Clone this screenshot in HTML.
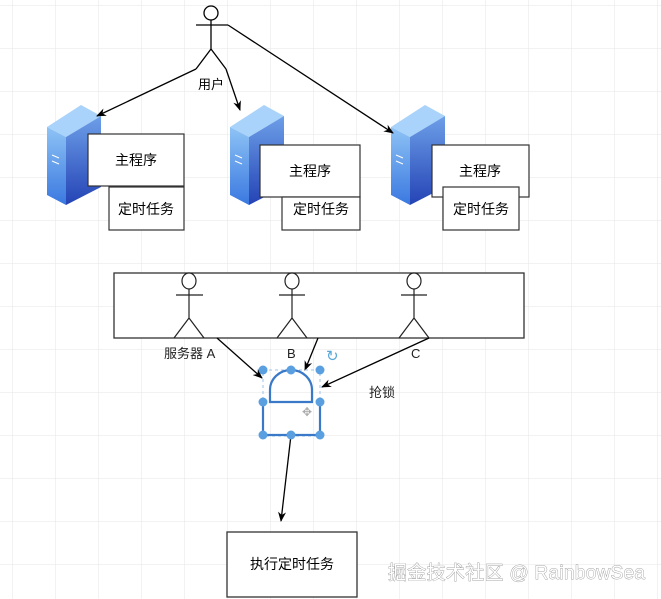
<!DOCTYPE html><html><head><meta charset="utf-8"><style>
body{margin:0;background:#fff;}
svg{display:block;font-family:"Liberation Sans","Noto Sans CJK SC",sans-serif;}
</style></head><body>
<svg width="661" height="599" viewBox="0 0 661 599" xmlns="http://www.w3.org/2000/svg">
<defs>
<pattern id="g" x="12" y="5" width="43" height="43" patternUnits="userSpaceOnUse">
<path d="M0 0V43M0 0H43" stroke="#e6e6e6" stroke-width="1" fill="none"/>
</pattern>
<linearGradient id="sf" x1="0" y1="0" x2="0" y2="1"><stop offset="0" stop-color="#8ec3f5"/><stop offset="1" stop-color="#3a78e0"/></linearGradient>
<linearGradient id="sr" x1="0" y1="0" x2="0" y2="1"><stop offset="0" stop-color="#6d9fe8"/><stop offset="1" stop-color="#2443b5"/></linearGradient>
<marker id="a" markerWidth="10" markerHeight="10" refX="9" refY="5" orient="auto" markerUnits="userSpaceOnUse"><path d="M0 1L10 5L0 9L3 5Z" fill="#000"/></marker>
<g id="srv">
<polygon points="0,22 34,0 54,11 19,32" fill="#a9d3fa"/>
<polygon points="0,22 19,32 19,100 0,90" fill="url(#sf)"/>
<polygon points="19,32 54,11 54,82 19,100" fill="url(#sr)"/>
<path d="M5 50l7 3M5 56l7 3" stroke="#fff" stroke-width="1"/>
</g>
</defs>
<rect width="661" height="599" fill="url(#g)"/>
<!-- servers -->
<use href="#srv" x="47" y="105"/>
<use href="#srv" x="230" y="105"/>
<use href="#srv" x="391" y="105"/>
<g fill="#fff" stroke="#333" stroke-width="1.2">
<rect x="88" y="134" width="96" height="52"/><rect x="109" y="187" width="75" height="43"/>
<rect x="260" y="145" width="100" height="52"/><rect x="282" y="197" width="78" height="33"/>
<rect x="432" y="145" width="97" height="52"/><rect x="443" y="187" width="76" height="43"/>
</g>
<g font-size="14" text-anchor="middle">
<text x="136" y="165">主程序</text><text x="146" y="214">定时任务</text>
<text x="310" y="176">主程序</text><text x="321" y="214">定时任务</text>
<text x="480" y="176">主程序</text><text x="481" y="214">定时任务</text>
</g>
<!-- user actor -->
<g stroke="#000" stroke-width="1.3" fill="none">
<circle cx="211" cy="13" r="7" fill="#fff"/>
<path d="M211 20V49M196 25H228M211 49L196 69M211 49L226 69"/>
<path d="M196 69L97 116" marker-end="url(#a)"/>
<path d="M226 69L240 110" marker-end="url(#a)"/>
<path d="M228 25L393 133" marker-end="url(#a)"/>
</g>
<text x="198" y="89" font-size="13">用户</text>
<!-- big rect -->
<rect x="114" y="273" width="410" height="65" fill="#fff" stroke="#333" stroke-width="1.3"/>
<g stroke="#222" stroke-width="1.2" fill="#fff">
<ellipse cx="189" cy="281" rx="7" ry="8"/><path d="M189 289V318M176 295H203M189 318L174 338M189 318L204 338" fill="none"/>
<ellipse cx="292" cy="281" rx="7" ry="8"/><path d="M292 289V318M279 295H305M292 318L277 338M292 318L307 338" fill="none"/>
<ellipse cx="414" cy="281" rx="7" ry="8"/><path d="M414 289V318M401 295H427M414 318L399 338M414 318L429 338" fill="none"/>
</g>
<g font-size="13" fill="#222">
<text x="164" y="358">服务器 A</text><text x="287" y="358">B</text><text x="411" y="358">C</text>
<text x="369" y="397">抢锁</text>
</g>
<g stroke="#000" stroke-width="1.3" fill="none">
<path d="M217 338L262 378" marker-end="url(#a)"/>
<path d="M318 338L305 370" marker-end="url(#a)"/>
<path d="M429 338L322 387" marker-end="url(#a)"/>
<path d="M291 435L281 521" marker-end="url(#a)"/>
</g>
<!-- lock -->
<rect x="263" y="370" width="57" height="66" fill="none" stroke="#9cc3e8" stroke-dasharray="3 3"/>
<path d="M270 402V390A21 20 0 0 1 312 390V402Z" fill="none" stroke="#3a78c8" stroke-width="2.2"/>
<path d="M263 402V435H320V402" fill="none" stroke="#3a78c8" stroke-width="2.2"/>
<g fill="#5aa0e0">
<circle cx="263" cy="370" r="4.5"/><circle cx="291" cy="370" r="4.5"/><circle cx="320" cy="370" r="4.5"/>
<circle cx="263" cy="402" r="4.5"/><circle cx="320" cy="402" r="4.5"/>
<circle cx="263" cy="435" r="4.5"/><circle cx="291" cy="435" r="4.5"/><circle cx="320" cy="435" r="4.5"/>
</g>
<text x="326" y="361" font-size="15" fill="#5aa8d8">↻</text>
<text x="302" y="416" font-size="12" fill="#aaa">✥</text>
<!-- bottom box -->
<rect x="227" y="532" width="130" height="65" fill="#fff" stroke="#333" stroke-width="1.3"/>
<text x="292" y="569" font-size="14" text-anchor="middle">执行定时任务</text>
<text x="388" y="579" font-size="19" fill="#fff" stroke="#888" stroke-width="0.7" style="paint-order:stroke" textLength="257">掘金技术社区 @ RainbowSea</text>
</svg>
</body></html>
